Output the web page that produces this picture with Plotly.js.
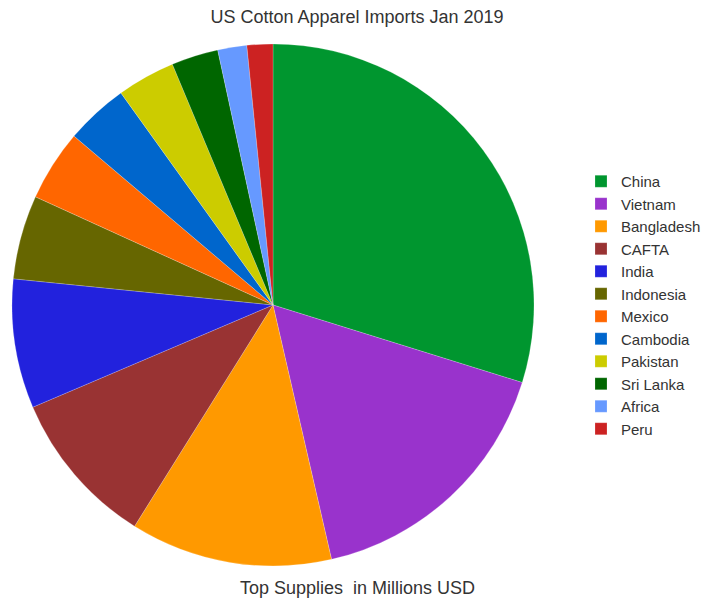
<!DOCTYPE html>
<html>
<head>
<meta charset="utf-8">
<script src="https://cdn.plot.ly/plotly-3.0.1.min.js"></script>
<style>html,body{margin:0;padding:0;background:#fff;}#chart{width:712px;height:601px;}</style>
</head>
<body>
<div id="chart"></div>
<script>
const countries = ["China","Vietnam","Bangladesh","CAFTA","India","Indonesia","Mexico","Cambodia","Pakistan","Sri Lanka","Africa","Peru"];
const importsMillionUSD = [298,166,125,97,80,52,44,39,36,29,18,16];
const sliceColors = ["#00962f","#9933cc","#ff9900","#993333","#2222dd","#666600","#ff6600","#0066cc","#cccc00","#006600","#6699ff","#cc2222"];

const trace = {
  type: "pie",
  labels: countries,
  values: importsMillionUSD,
  sort: false,
  direction: "clockwise",
  rotation: 0,
  textinfo: "none",
  hoverinfo: "label+value+percent",
  marker: {colors: sliceColors, line: {color: "rgba(255,255,255,0.4)", width: 0.5}},
  domain: {x: [12/712, 534/712], y: [1-566/601, 1-44/601]}
};

const layout = {
  width: 712, height: 601,
  margin: {l: 0, r: 0, t: 0, b: 0},
  paper_bgcolor: "#fff",
  font: {family: "Liberation Sans, Arial, sans-serif", color: "#333"},
  title: {text: "US Cotton Apparel Imports Jan 2019", font: {size: 18, color: "#333"}, x: 357/712, xanchor: "center", y: 1-17/601, yanchor: "middle"},
  showlegend: true,
  legend: {x: 581/712, xanchor: "left", y: 1-165/601, yanchor: "top", font: {size: 15, color: "#333"}, bgcolor: "rgba(0,0,0,0)"},
  annotations: [{
    text: "Top Supplies\u00a0 in Millions USD",
    x: 357/712, y: 1-588/601, xref: "paper", yref: "paper",
    xanchor: "center", yanchor: "middle", showarrow: false,
    font: {size: 18, color: "#333"}
  }]
};

Plotly.newPlot("chart", [trace], layout, {displayModeBar: false, staticPlot: true});
</script>
</body>
</html>
